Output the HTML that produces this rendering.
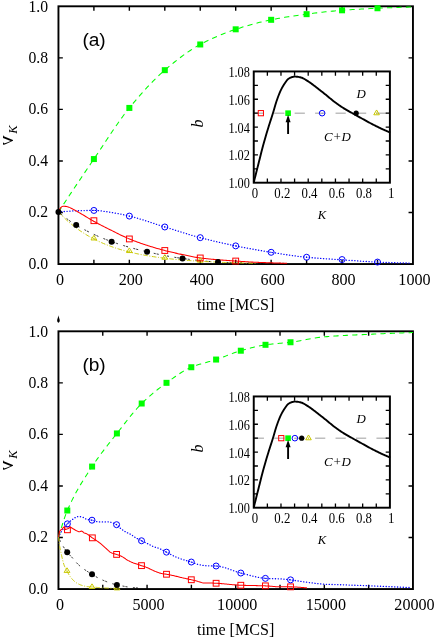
<!DOCTYPE html>
<html>
<head>
<meta charset="utf-8">
<title>Figure</title>
<style>
html,body{margin:0;padding:0;background:#fff;}
body{width:436px;height:637px;overflow:hidden;font-family:"Liberation Serif",serif;}
svg{display:block;will-change:transform;}
</style>
</head>
<body>
<svg width="436" height="637" viewBox="0 0 436 637">
<rect x="0" y="0" width="436" height="637" fill="#ffffff"/>
<g>
<path d="M93.9 264.05v-4.4M93.9 6.3v4.4M129.35 264.05v-4.4M129.35 6.3v4.4M164.8 264.05v-4.4M164.8 6.3v4.4M200.25 264.05v-4.4M200.25 6.3v4.4M235.7 264.05v-4.4M235.7 6.3v4.4M271.15 264.05v-4.4M271.15 6.3v4.4M306.6 264.05v-4.4M306.6 6.3v4.4M342.05 264.05v-4.4M342.05 6.3v4.4M377.5 264.05v-4.4M377.5 6.3v4.4M58.45 212.5h4.4M412.95 212.5h-4.4M58.45 160.95h4.4M412.95 160.95h-4.4M58.45 109.4h4.4M412.95 109.4h-4.4M58.45 57.85h4.4M412.95 57.85h-4.4" stroke="#000" stroke-width="1.4" fill="none"/>
<rect x="58.45" y="6.3" width="354.5" height="257.75" fill="none" stroke="#000" stroke-width="1.9"/>
<g font-family="'Liberation Serif', serif" font-size="15.7px" fill="#000">
<text x="48.0" y="268.55" text-anchor="end">0.0</text>
<text x="48.0" y="217.17" text-anchor="end">0.2</text>
<text x="48.0" y="165.79" text-anchor="end">0.4</text>
<text x="48.0" y="114.41" text-anchor="end">0.6</text>
<text x="48.0" y="63.03" text-anchor="end">0.8</text>
<text x="48.0" y="11.65" text-anchor="end">1.0</text>
<text x="59.95" y="285.4" text-anchor="middle" font-size="16.1px">0</text>
<text x="130.85" y="285.4" text-anchor="middle" font-size="16.1px">200</text>
<text x="201.75" y="285.4" text-anchor="middle" font-size="16.1px">400</text>
<text x="272.65" y="285.4" text-anchor="middle" font-size="16.1px">600</text>
<text x="343.55" y="285.4" text-anchor="middle" font-size="16.1px">800</text>
<text x="414.45" y="285.4" text-anchor="middle" font-size="16.1px">1000</text>
</g>
<text x="235.6" y="309.5" text-anchor="middle" font-family="'Liberation Serif', serif" font-size="16.1px">time [MCS]</text>
<text transform="translate(12.7 135.6) rotate(-90) scale(-1 1)" font-family="'Liberation Serif', serif" font-size="21.5px">&#957;</text>
<text transform="translate(17.4 133.7) rotate(-90)" font-family="'Liberation Serif', serif" font-style="italic" font-size="12.6px">K</text>
<text x="82.4" y="45.6" font-family="'Liberation Sans', sans-serif" font-size="19.1px">(a)</text>
<path d="M58.45 211.97L60.23 209.27L62.01 206.57L63.79 203.88L65.58 201.19L67.36 198.5L69.14 195.82L70.92 193.15L72.7 190.48L74.48 187.81L76.26 185.15L78.05 182.49L79.83 179.84L81.61 177.19L83.39 174.55L85.17 171.91L86.95 169.28L88.73 166.65L90.52 164.02L92.3 161.4L93.9 159.05L94.08 158.79L95.86 156.16L97.64 153.5L99.42 150.83L101.2 148.14L102.99 145.45L104.77 142.75L106.55 140.05L108.33 137.36L110.11 134.68L111.89 132.02L113.67 129.38L115.46 126.77L117.24 124.19L119.02 121.65L120.8 119.15L122.58 116.7L124.36 114.31L126.14 111.97L127.92 109.69L129.35 107.93L129.71 107.49L131.49 105.32L133.27 103.18L135.05 101.05L136.83 98.96L138.61 96.89L140.39 94.84L142.18 92.83L143.96 90.84L145.74 88.88L147.52 86.96L149.3 85.07L151.08 83.21L152.86 81.38L154.65 79.6L156.43 77.85L158.21 76.14L159.99 74.47L161.77 72.84L163.55 71.25L164.8 70.16L165.33 69.7L167.12 68.18L168.9 66.67L170.68 65.19L172.46 63.72L174.24 62.27L176.02 60.85L177.8 59.45L179.59 58.08L181.37 56.74L183.15 55.42L184.93 54.13L186.71 52.88L188.49 51.65L190.27 50.46L192.06 49.3L193.84 48.18L195.62 47.1L197.4 46.06L199.18 45.05L200.25 44.47L200.96 44.09L202.74 43.15L204.53 42.23L206.31 41.34L208.09 40.46L209.87 39.61L211.65 38.77L213.43 37.96L215.21 37.16L217 36.39L218.78 35.63L220.56 34.89L222.34 34.17L224.12 33.47L225.9 32.78L227.68 32.12L229.47 31.47L231.25 30.83L233.03 30.21L234.81 29.61L235.7 29.31L236.59 29.02L238.37 28.44L240.15 27.88L241.93 27.32L243.72 26.77L245.5 26.24L247.28 25.71L249.06 25.2L250.84 24.7L252.62 24.2L254.4 23.72L256.19 23.26L257.97 22.8L259.75 22.36L261.53 21.92L263.31 21.5L265.09 21.1L266.87 20.7L268.66 20.32L270.44 19.95L271.15 19.81L272.22 19.6L274 19.25L275.78 18.91L277.56 18.58L279.34 18.26L281.13 17.95L282.91 17.64L284.69 17.34L286.47 17.05L288.25 16.77L290.03 16.49L291.81 16.22L293.6 15.95L295.38 15.69L297.16 15.43L298.94 15.18L300.72 14.94L302.5 14.7L304.28 14.46L306.07 14.23L306.6 14.16L307.85 14L309.63 13.77L311.41 13.54L313.19 13.32L314.97 13.1L316.75 12.88L318.54 12.66L320.32 12.45L322.1 12.25L323.88 12.04L325.66 11.84L327.44 11.65L329.22 11.46L331.01 11.28L332.79 11.11L334.57 10.94L336.35 10.77L338.13 10.62L339.91 10.47L341.69 10.33L342.05 10.3L343.48 10.2L345.26 10.07L347.04 9.94L348.82 9.82L350.6 9.7L352.38 9.58L354.16 9.47L355.94 9.36L357.73 9.26L359.51 9.15L361.29 9.05L363.07 8.96L364.85 8.86L366.63 8.77L368.41 8.68L370.2 8.59L371.98 8.5L373.76 8.42L375.54 8.34L377.32 8.26L377.5 8.25L379.1 8.18L380.88 8.1L382.67 8.02L384.45 7.95L386.23 7.87L388.01 7.8L389.79 7.73L391.57 7.66L393.35 7.59L395.14 7.52L396.92 7.46L398.7 7.4L400.48 7.33L402.26 7.28L404.04 7.22L405.82 7.16L407.61 7.11L409.39 7.06L411.17 7.01L412.95 6.96" stroke="#00ff00" stroke-width="1.05" fill="none" stroke-dasharray="5.2 4.2" stroke-linejoin="round"/>
<path d="M58.45 211.97L60.22 211.82L61.99 211.67L63.76 211.53L65.53 211.4L67.29 211.27L69.06 211.16L70.83 211.05L72.6 210.96L74.37 210.88L76.14 210.82L76.18 210.81L77.91 210.76L79.68 210.7L81.45 210.65L83.22 210.6L84.98 210.55L86.75 210.51L88.52 210.48L90.29 210.45L92.06 210.43L93.83 210.43L93.9 210.43L95.6 210.46L97.37 210.55L99.14 210.7L100.9 210.89L102.67 211.12L104.44 211.37L106.21 211.64L107.98 211.92L109.75 212.2L111.52 212.47L111.62 212.48L113.29 212.74L115.06 213.04L116.82 213.36L118.59 213.7L120.36 214.05L122.13 214.43L123.9 214.82L125.67 215.22L127.44 215.63L129.21 216.05L129.35 216.08L130.98 216.48L132.75 216.93L134.51 217.41L136.28 217.91L138.05 218.42L139.82 218.95L141.59 219.49L143.36 220.04L145.13 220.61L146.9 221.18L148.67 221.76L150.43 222.34L152.2 222.92L153.97 223.5L155.74 224.09L157.51 224.67L159.28 225.24L161.05 225.8L162.82 226.36L164.59 226.91L164.8 226.97L166.36 227.45L168.12 227.99L169.89 228.54L171.66 229.1L173.43 229.65L175.2 230.21L176.97 230.76L178.74 231.32L180.51 231.87L182.28 232.43L184.04 232.97L185.81 233.52L187.58 234.06L189.35 234.59L191.12 235.11L192.89 235.63L194.66 236.13L196.43 236.63L198.2 237.11L199.96 237.59L200.25 237.66L201.73 238.05L203.5 238.5L205.27 238.95L207.04 239.4L208.81 239.84L210.58 240.27L212.35 240.7L214.12 241.13L215.89 241.54L217.65 241.96L219.42 242.36L221.19 242.77L222.96 243.16L224.73 243.56L226.5 243.94L228.27 244.33L230.04 244.7L231.81 245.08L233.57 245.45L235.34 245.81L235.7 245.88L237.11 246.17L238.88 246.52L240.65 246.87L242.42 247.22L244.19 247.56L245.96 247.9L247.73 248.24L249.5 248.57L251.26 248.9L253.03 249.22L254.8 249.54L256.57 249.86L258.34 250.17L260.11 250.48L261.88 250.78L263.65 251.08L265.42 251.38L267.18 251.67L268.95 251.95L270.72 252.24L271.15 252.3L272.49 252.52L274.26 252.8L276.03 253.08L277.8 253.36L279.57 253.64L281.34 253.91L283.11 254.19L284.87 254.46L286.64 254.73L288.41 254.99L290.18 255.25L291.95 255.5L293.72 255.75L295.49 255.99L297.26 256.22L299.03 256.44L300.79 256.65L302.56 256.85L304.33 257.04L306.1 257.21L306.6 257.26L307.87 257.38L309.64 257.54L311.41 257.69L313.18 257.84L314.95 257.98L316.71 258.12L318.48 258.25L320.25 258.37L322.02 258.5L323.79 258.62L325.56 258.74L327.33 258.85L329.1 258.97L330.87 259.08L332.64 259.19L334.4 259.31L336.17 259.42L337.94 259.53L339.71 259.65L341.48 259.77L342.05 259.8L343.25 259.89L345.02 260.01L346.79 260.13L348.56 260.26L350.32 260.38L352.09 260.51L353.86 260.64L355.63 260.76L357.4 260.89L359.17 261.01L360.94 261.13L362.71 261.25L364.48 261.36L366.25 261.47L368.01 261.58L369.78 261.68L371.55 261.78L373.32 261.87L375.09 261.96L376.86 262.04L377.5 262.07L378.63 262.11L380.4 262.18L382.17 262.26L383.93 262.33L385.7 262.39L387.47 262.46L389.24 262.53L391.01 262.59L392.78 262.65L394.55 262.71L396.32 262.76L398.09 262.81L399.85 262.86L401.62 262.91L403.39 262.95L405.16 262.99L406.93 263.03L408.7 263.06L410.47 263.09" stroke="#0000ff" stroke-width="1.3" fill="none" stroke-dasharray="0.2 2.65" stroke-linejoin="round" stroke-linecap="round"/>
<path d="M58.45 211.97L59.59 212.91L60.73 213.85L61.87 214.78L63.01 215.7L64.15 216.61L65.29 217.51L66.43 218.39L67.57 219.25L68.71 220.1L69.85 220.93L70.99 221.73L72.13 222.51L73.27 223.27L74.41 224L75.55 224.7L76.18 225.07L76.69 225.37L77.83 226.04L78.97 226.69L80.11 227.33L81.25 227.96L82.39 228.59L83.53 229.2L84.67 229.81L85.81 230.4L86.95 230.99L88.09 231.57L89.23 232.14L90.37 232.7L91.51 233.26L92.65 233.8L93.79 234.34L94.93 234.86L96.07 235.38L97.21 235.89L98.35 236.4L99.49 236.89L100.63 237.37L101.77 237.85L102.91 238.32L104.05 238.78L105.19 239.23L106.33 239.68L107.47 240.12L108.61 240.55L109.75 240.97L110.89 241.38L111.62 241.64L112.03 241.79L113.17 242.19L114.31 242.58L115.46 242.97L116.6 243.35L117.74 243.73L118.88 244.1L120.02 244.47L121.16 244.83L122.3 245.19L123.44 245.54L124.58 245.89L125.72 246.23L126.86 246.56L128 246.89L129.14 247.22L130.28 247.54L131.42 247.86L132.56 248.17L133.7 248.48L134.84 248.79L135.98 249.09L137.12 249.38L138.26 249.67L139.4 249.96L140.54 250.24L141.68 250.52L142.82 250.8L143.96 251.07L145.1 251.33L146.24 251.6L147.07 251.79L147.38 251.86L148.52 252.12L149.66 252.37L150.8 252.63L151.94 252.88L153.08 253.13L154.22 253.38L155.36 253.62L156.5 253.87L157.64 254.11L158.78 254.34L159.92 254.58L161.06 254.81L162.2 255.04L163.34 255.27L164.48 255.49L165.62 255.71L166.76 255.92L167.9 256.14L169.04 256.34L170.18 256.55L171.32 256.75L172.46 256.94L173.6 257.14L174.74 257.32L175.88 257.5L177.02 257.68L178.16 257.85L179.3 258.02L180.44 258.19L181.58 258.34L182.52 258.47L182.72 258.49L183.86 258.64L185 258.79L186.14 258.94L187.28 259.09L188.42 259.24L189.56 259.38L190.7 259.53L191.84 259.67L192.98 259.81L194.12 259.95L195.26 260.09L196.4 260.22L197.54 260.35L198.68 260.48L199.82 260.61L200.96 260.73L202.1 260.85L203.24 260.96L204.38 261.08L205.52 261.18L206.66 261.29L207.8 261.39L208.94 261.48L210.08 261.58L211.22 261.66L212.36 261.74L213.5 261.82L214.64 261.89L215.78 261.96L216.92 262.02L217.98 262.07L218.06 262.07L219.2 262.12L220.34 262.17L221.48 262.22L222.62 262.27L223.76 262.31L224.9 262.36L226.04 262.4L227.18 262.44L228.32 262.48L229.47 262.52L230.61 262.56L231.75 262.6L232.89 262.64L234.03 262.67L235.17 262.71L236.31 262.74L237.45 262.77L238.59 262.8L239.73 262.83L240.87 262.86L242.01 262.89L243.15 262.91L244.29 262.94L245.43 262.96L246.57 262.99L247.71 263.01L248.85 263.03L249.99 263.04L251.13 263.06L252.27 263.08L253.41 263.09L253.43 263.09L254.55 263.11L255.69 263.12L256.83 263.14L257.97 263.15L259.11 263.16L260.25 263.18L261.39 263.19L262.53 263.2L263.67 263.21L264.81 263.23L265.95 263.24L267.09 263.25L268.23 263.26L269.37 263.27L270.51 263.28L271.65 263.29L272.79 263.3L273.93 263.31L275.07 263.32L276.21 263.32L277.35 263.33L278.49 263.33L279.63 263.34L280.77 263.34L281.91 263.35L283.05 263.35L284.19 263.35L285.33 263.35" stroke="#000000" stroke-width="0.85" fill="none" stroke-dasharray="2 1 2 5.5" stroke-linejoin="round"/>
<path d="M58.45 211.97L60.12 213.74L61.79 215.44L63.45 217.09L65.12 218.68L66.79 220.22L68.46 221.71L70.13 223.14L71.8 224.53L73.46 225.87L75.13 227.16L76.8 228.41L78.47 229.62L80.14 230.78L81.81 231.91L83.47 232.99L85.14 234.04L86.81 235.06L88.48 236.04L90.15 236.98L91.81 237.9L93.48 238.78L95.15 239.64L96.82 240.46L98.49 241.26L100.16 242.03L101.82 242.77L103.49 243.49L105.16 244.18L106.83 244.85L108.5 245.5L110.17 246.12L111.83 246.73L113.5 247.31L115.17 247.88L116.84 248.42L118.51 248.95L120.17 249.46L121.84 249.95L123.51 250.42L125.18 250.88L126.85 251.32L128.52 251.75L130.18 252.17L131.85 252.57L133.52 252.95L135.19 253.33L136.86 253.69L138.53 254.04L140.19 254.37L141.86 254.7L143.53 255.01L145.2 255.32L146.87 255.61L148.53 255.9L150.2 256.17L151.87 256.44L153.54 256.69L155.21 256.94L156.88 257.18L158.54 257.41L160.21 257.64L161.88 257.85L163.55 258.06L165.22 258.27L166.89 258.46L168.55 258.65L170.22 258.84L171.89 259.01L173.56 259.18L175.23 259.35L176.89 259.51L178.56 259.66L180.23 259.81L181.9 259.96L183.57 260.1L185.24 260.24L186.9 260.37L188.57 260.49L190.24 260.62L191.91 260.74L193.58 260.85L195.25 260.96L196.91 261.07L198.58 261.17L200.25 261.28L201.92 261.37L203.59 261.47L205.25 261.56L206.92 261.65L208.59 261.73L210.26 261.82L211.93 261.9L213.6 261.98L215.26 262.05L216.93 262.12L218.6 262.2L220.27 262.26L221.94 262.33L223.61 262.4L225.27 262.46L226.94 262.52L228.61 262.58L230.28 262.63L231.95 262.69L233.61 262.74L235.28 262.8L236.95 262.85L238.62 262.9L240.29 262.94L241.96 262.99L243.62 263.03L245.29 263.08L246.96 263.12L248.63 263.16L250.3 263.2L251.97 263.24L253.63 263.28L255.3 263.31L256.97 263.35" stroke="#c8c800" stroke-width="0.95" fill="none" stroke-dasharray="4.6 1.6 1 1.6" stroke-linejoin="round"/>
<path d="M58.45 211.97L59.6 209.35L60.58 207.86L60.75 207.69L61.9 206.64L63.05 206.16L63.06 206.16L64.2 206.22L65.34 206.36L66.49 206.55L67.31 206.7L67.64 206.77L68.79 207.14L69.94 207.63L71.09 208.22L72.24 208.83L73.34 209.4L73.39 209.42L74.54 210.01L75.69 210.63L76.83 211.27L77.98 211.93L79.13 212.61L80.28 213.29L81.43 213.97L82.58 214.65L83.27 215.05L83.73 215.32L84.88 216.01L86.03 216.7L87.18 217.4L88.32 218.1L89.47 218.79L90.62 219.48L91.77 220.15L92.92 220.81L93.19 220.96L94.07 221.45L95.22 222.08L96.37 222.7L97.52 223.31L98.67 223.92L99.81 224.52L100.96 225.12L102.11 225.71L103.26 226.29L104.41 226.88L105.56 227.46L106.71 228.03L107.86 228.61L109.01 229.18L110.16 229.75L110.56 229.95L111.3 230.32L112.45 230.9L113.6 231.48L114.75 232.05L115.9 232.63L117.05 233.21L118.2 233.78L119.35 234.35L120.5 234.91L121.65 235.47L122.79 236.02L123.94 236.56L125.09 237.09L126.24 237.61L127.39 238.12L128.54 238.61L129.35 238.94L129.69 239.08L130.84 239.55L131.99 240.01L133.14 240.46L134.28 240.9L135.43 241.33L136.58 241.76L137.73 242.18L138.88 242.59L140.03 243L141.18 243.4L142.33 243.8L143.48 244.18L144.63 244.57L145.77 244.95L146.92 245.32L147.07 245.37L148.07 245.69L149.22 246.05L150.37 246.41L151.52 246.76L152.67 247.11L153.82 247.46L154.97 247.8L156.12 248.13L157.26 248.46L158.41 248.79L159.56 249.11L160.71 249.42L161.86 249.73L163.01 250.04L164.16 250.34L164.8 250.51L165.31 250.64L166.46 250.93L167.61 251.22L168.75 251.5L169.9 251.78L171.05 252.06L172.2 252.33L173.35 252.6L174.5 252.86L175.65 253.12L176.8 253.38L177.95 253.64L179.1 253.89L180.24 254.13L181.39 254.38L182.52 254.62L182.54 254.62L183.69 254.86L184.84 255.1L185.99 255.34L187.14 255.58L188.29 255.82L189.44 256.06L190.59 256.29L191.73 256.52L192.88 256.74L194.03 256.96L195.18 257.17L196.33 257.36L197.48 257.55L198.63 257.73L199.78 257.89L200.25 257.96L200.93 258.04L202.08 258.19L203.22 258.33L204.37 258.46L205.52 258.59L206.67 258.71L207.82 258.83L208.97 258.95L210.12 259.06L211.27 259.16L212.42 259.27L213.57 259.37L214.72 259.47L215.86 259.57L217.01 259.67L217.98 259.75L218.16 259.77L219.31 259.86L220.46 259.96L221.61 260.05L222.76 260.14L223.91 260.22L225.06 260.31L226.21 260.39L227.35 260.47L228.5 260.55L229.65 260.63L230.8 260.71L231.95 260.79L233.1 260.87L234.25 260.94L235.4 261.02L235.7 261.04L236.55 261.09L237.7 261.17L238.84 261.25L239.99 261.32L241.14 261.4L242.29 261.48L243.44 261.55L244.59 261.63L245.74 261.7L246.89 261.77L248.04 261.84L249.19 261.91L250.33 261.98L251.48 262.04L252.63 262.11L253.78 262.17L254.93 262.23L256.08 262.28L256.97 262.32L257.23 262.33L258.38 262.38L259.53 262.43L260.68 262.47L261.82 262.52L262.97 262.56L264.12 262.6L265.27 262.64L266.42 262.68L267.57 262.72L268.72 262.75L269.87 262.79L271.02 262.83L271.15 262.84L272.17 262.87L273.31 262.91L274.46 262.95L275.61 262.99L276.76 263.02L277.91 263.06L279.06 263.1L280.21 263.14L281.36 263.17L282.51 263.21L283.66 263.24L284.8 263.28L285.95 263.32L287.1 263.35" stroke="#ff0000" stroke-width="1.05" fill="none" stroke-linejoin="round"/>
<rect x="90.9" y="156.05" width="6" height="6" fill="#00ff00"/>
<rect x="126.35" y="104.93" width="6" height="6" fill="#00ff00"/>
<rect x="161.8" y="67.16" width="6" height="6" fill="#00ff00"/>
<rect x="197.25" y="41.47" width="6" height="6" fill="#00ff00"/>
<rect x="232.7" y="26.31" width="6" height="6" fill="#00ff00"/>
<rect x="268.15" y="16.81" width="6" height="6" fill="#00ff00"/>
<rect x="303.6" y="11.16" width="6" height="6" fill="#00ff00"/>
<rect x="339.05" y="7.3" width="6" height="6" fill="#00ff00"/>
<rect x="374.5" y="5.25" width="6" height="6" fill="#00ff00"/>
<path d="M91 239.96L96.8 239.96L93.9 235.36Z" fill="none" stroke="#c8c800" stroke-width="1" stroke-linejoin="miter"/><circle cx="93.9" cy="238.43" r="0.65" fill="#c8c800"/>
<path d="M126.45 252.55L132.25 252.55L129.35 247.95Z" fill="none" stroke="#c8c800" stroke-width="1" stroke-linejoin="miter"/><circle cx="129.35" cy="251.02" r="0.65" fill="#c8c800"/>
<path d="M161.9 259.23L167.7 259.23L164.8 254.63Z" fill="none" stroke="#c8c800" stroke-width="1" stroke-linejoin="miter"/><circle cx="164.8" cy="257.7" r="0.65" fill="#c8c800"/>
<path d="M197.35 262.18L203.15 262.18L200.25 257.58Z" fill="none" stroke="#c8c800" stroke-width="1" stroke-linejoin="miter"/><circle cx="200.25" cy="260.65" r="0.65" fill="#c8c800"/>
<circle cx="58.45" cy="211.97" r="3" fill="#000000"/>
<circle cx="76.18" cy="225.07" r="3" fill="#000000"/>
<circle cx="111.62" cy="241.64" r="3" fill="#000000"/>
<circle cx="147.07" cy="251.79" r="3" fill="#000000"/>
<circle cx="182.52" cy="258.47" r="3" fill="#000000"/>
<circle cx="217.98" cy="262.07" r="3" fill="#000000"/>
<rect x="91" y="217.8" width="5.8" height="5.8" fill="none" stroke="#ff0000" stroke-width="1"/>
<rect x="126.45" y="236.04" width="5.8" height="5.8" fill="none" stroke="#ff0000" stroke-width="1"/>
<rect x="161.9" y="247.61" width="5.8" height="5.8" fill="none" stroke="#ff0000" stroke-width="1"/>
<rect x="197.35" y="255.06" width="5.8" height="5.8" fill="none" stroke="#ff0000" stroke-width="1"/>
<rect x="232.8" y="258.14" width="5.8" height="5.8" fill="none" stroke="#ff0000" stroke-width="1"/>
<circle cx="93.9" cy="210.43" r="3" fill="none" stroke="#0000ff" stroke-width="1"/><circle cx="93.9" cy="210.43" r="0.65" fill="#0000ff"/>
<circle cx="129.35" cy="216.08" r="3" fill="none" stroke="#0000ff" stroke-width="1"/><circle cx="129.35" cy="216.08" r="0.65" fill="#0000ff"/>
<circle cx="164.8" cy="226.97" r="3" fill="none" stroke="#0000ff" stroke-width="1"/><circle cx="164.8" cy="226.97" r="0.65" fill="#0000ff"/>
<circle cx="200.25" cy="237.66" r="3" fill="none" stroke="#0000ff" stroke-width="1"/><circle cx="200.25" cy="237.66" r="0.65" fill="#0000ff"/>
<circle cx="235.7" cy="245.88" r="3" fill="none" stroke="#0000ff" stroke-width="1"/><circle cx="235.7" cy="245.88" r="0.65" fill="#0000ff"/>
<circle cx="271.15" cy="252.3" r="3" fill="none" stroke="#0000ff" stroke-width="1"/><circle cx="271.15" cy="252.3" r="0.65" fill="#0000ff"/>
<circle cx="306.6" cy="257.26" r="3" fill="none" stroke="#0000ff" stroke-width="1"/><circle cx="306.6" cy="257.26" r="0.65" fill="#0000ff"/>
<circle cx="342.05" cy="259.55" r="3" fill="none" stroke="#0000ff" stroke-width="1"/><circle cx="342.05" cy="259.55" r="0.65" fill="#0000ff"/>
<circle cx="377.5" cy="262.07" r="3" fill="none" stroke="#0000ff" stroke-width="1"/><circle cx="377.5" cy="262.07" r="0.65" fill="#0000ff"/>
<g>
<path d="M253.75 113.17H389.9" stroke="#bebebe" stroke-width="1.5" stroke-dasharray="10.2 10.25" stroke-dashoffset="0" fill="none"/>
<path d="M267.37 182.7v-4.2M267.37 71.45v4.2M280.98 182.7v-4.2M280.98 71.45v4.2M294.59 182.7v-4.2M294.59 71.45v4.2M308.21 182.7v-4.2M308.21 71.45v4.2M321.82 182.7v-4.2M321.82 71.45v4.2M335.44 182.7v-4.2M335.44 71.45v4.2M349.05 182.7v-4.2M349.05 71.45v4.2M362.67 182.7v-4.2M362.67 71.45v4.2M376.28 182.7v-4.2M376.28 71.45v4.2M253.75 168.79h4.2M389.9 168.79h-4.2M253.75 154.89h4.2M389.9 154.89h-4.2M253.75 140.98h4.2M389.9 140.98h-4.2M253.75 127.07h4.2M389.9 127.07h-4.2M253.75 113.17h4.2M389.9 113.17h-4.2M253.75 99.26h4.2M389.9 99.26h-4.2M253.75 85.36h4.2M389.9 85.36h-4.2" stroke="#000" stroke-width="1.3" fill="none"/>
<path d="M253.8 182.3L254.66 178.86L255.52 175.43L256.37 172.01L257.23 168.61L258.09 165.21L258.6 163.2L258.95 161.83L259.81 158.41L260.66 154.99L261.52 151.59L262.38 148.26L263.24 145.03L263.6 143.7L264.09 141.92L264.95 138.91L265.81 135.96L266.67 133.08L267.53 130.24L268.38 127.44L269.2 124.8L269.24 124.67L270.1 121.96L270.96 119.33L271.82 116.71L272.67 114.04L273 113L273.53 111.24L274.39 108.28L275.25 105.31L276.1 102.5L276.5 101.3L276.96 99.96L277.82 97.53L278.68 95.23L279.54 93.09L280.39 91.13L280.5 90.9L281.25 89.35L282.11 87.68L282.97 86.14L283.83 84.72L284.5 83.7L284.68 83.43L285.54 82.19L286.4 81L287.26 79.95L288.11 79.1L288.5 78.8L288.97 78.48L289.83 77.97L290.69 77.55L291.55 77.24L291.7 77.2L292.4 77.01L293.26 76.81L294.12 76.66L294.98 76.6L295 76.6L295.84 76.63L296.69 76.71L297.55 76.81L298.2 76.9L298.41 76.93L299.27 77.07L300.12 77.26L300.98 77.48L301.4 77.6L301.84 77.75L302.7 78.11L303.56 78.54L304.41 79.03L305.27 79.55L306.13 80.06L306.2 80.1L306.99 80.58L307.85 81.12L308.7 81.69L309.56 82.29L310.42 82.89L311 83.3L311.28 83.5L312.13 84.13L312.99 84.77L313.85 85.43L314.71 86.1L315.57 86.77L316 87.1L316.42 87.43L317.28 88.09L318.14 88.75L319 89.42L319.86 90.09L320 90.2L320.71 90.76L321.57 91.43L322.43 92.1L323.29 92.78L324.14 93.46L325 94.14L325.2 94.3L325.86 94.83L326.72 95.53L327.58 96.24L328.43 96.96L329.29 97.67L330.15 98.39L331.01 99.1L331.87 99.8L332.72 100.48L333.58 101.15L334.3 101.7L334.44 101.8L335.3 102.44L336.15 103.07L337.01 103.7L337.87 104.31L338.73 104.92L339.59 105.51L340.44 106.1L341.3 106.68L342.16 107.24L343.02 107.79L343.5 108.1L343.88 108.34L344.73 108.86L345.59 109.38L346.45 109.88L347.31 110.37L348.16 110.86L349.02 111.34L349.88 111.82L350.74 112.3L351.6 112.78L352.45 113.26L352.7 113.4L353.31 113.75L354.17 114.23L355.03 114.71L355.89 115.18L356.74 115.66L357.6 116.13L358.46 116.6L359.32 117.08L360.17 117.55L361.03 118.02L361.89 118.49L361.9 118.5L362.75 118.97L363.61 119.45L364.46 119.93L365.32 120.4L366.18 120.88L367.04 121.36L367.9 121.83L368.75 122.3L369.61 122.76L370.47 123.22L371 123.5L371.33 123.67L372.18 124.12L373.04 124.56L373.9 125L374.76 125.43L375.62 125.87L376.47 126.29L377.33 126.72L378.19 127.13L379.05 127.55L379.91 127.96L380.2 128.1L380.76 128.37L381.62 128.77L382.48 129.17L383.34 129.56L384.19 129.96L385.05 130.35L385.91 130.73L386.77 131.11L387.63 131.49L388.48 131.86L389.34 132.23L390.2 132.6" stroke="#000" stroke-width="1.9" fill="none" stroke-linejoin="round"/>
<rect x="253.75" y="71.45" width="136.15" height="111.25" fill="none" stroke="#000" stroke-width="1.95"/>
<rect x="258.26" y="110.57" width="5.2" height="5.2" fill="none" stroke="#ff0000" stroke-width="1"/>
<rect x="285.29" y="110.37" width="5.6" height="5.6" fill="#00ff00"/>
<circle cx="322.12" cy="113.17" r="2.8" fill="none" stroke="#0000ff" stroke-width="1"/><circle cx="322.12" cy="113.17" r="0.4" fill="#0000ff"/>
<circle cx="356.16" cy="113.17" r="2.6" fill="#000000"/>
<path d="M373.78 114.77L379.38 114.77L376.58 109.97Z" fill="none" stroke="#c8c800" stroke-width="1" stroke-linejoin="miter"/><circle cx="376.58" cy="113.17" r="0.65" fill="#c8c800"/>
<path d="M288.09 134V120" stroke="#000" stroke-width="1.9" fill="none"/>
<path d="M288.09 114.8L285.59 122.2L290.59 122.2Z" fill="#000"/>
<g font-family="'Liberation Serif', serif" font-size="12.3px" fill="#000">
<text transform="translate(255.05 198) scale(1 1.08)" text-anchor="middle" font-size="12.8px">0</text>
<text transform="translate(282.28 198) scale(1 1.08)" text-anchor="middle" font-size="12.8px">0.2</text>
<text transform="translate(309.51 198) scale(1 1.08)" text-anchor="middle" font-size="12.8px">0.4</text>
<text transform="translate(336.74 198) scale(1 1.08)" text-anchor="middle" font-size="12.8px">0.6</text>
<text transform="translate(363.97 198) scale(1 1.08)" text-anchor="middle" font-size="12.8px">0.8</text>
<text transform="translate(391.2 198) scale(1 1.08)" text-anchor="middle" font-size="12.8px">1</text>
<text transform="translate(249.9 188.3) scale(1 1.17)" text-anchor="end">1.00</text>
<text transform="translate(249.9 160.49) scale(1 1.17)" text-anchor="end">1.02</text>
<text transform="translate(249.9 132.67) scale(1 1.17)" text-anchor="end">1.04</text>
<text transform="translate(249.9 104.86) scale(1 1.17)" text-anchor="end">1.06</text>
<text transform="translate(249.9 77.05) scale(1 1.17)" text-anchor="end">1.08</text>
</g>
<text x="322" y="218.6" text-anchor="middle" font-family="'Liberation Serif', serif" font-style="italic" font-size="12.6px">K</text>
<text transform="translate(203.3 123.5) rotate(-90)" text-anchor="middle" font-family="'Liberation Serif', serif" font-style="italic" font-size="16px">b</text>
<text x="361.2" y="98" text-anchor="middle" font-family="'Liberation Serif', serif" font-style="italic" font-size="12.9px">D</text>
<text x="337.4" y="141.3" text-anchor="middle" font-family="'Liberation Serif', serif" font-style="italic" font-size="12.9px">C+D</text>
</g>
</g>
<path d="M58.45 315.2C58.7 317.5 59.8 319 59.75 320.6C59.7 322 59 322.7 58.45 322.7C57.9 322.7 57.2 322 57.15 320.6C57.1 319 58.2 317.5 58.45 315.2Z" fill="#000"/>
<g transform="translate(0 325)">
<path d="M102.76 264.05v-4.4M102.76 6.3v4.4M147.07 264.05v-4.4M147.07 6.3v4.4M191.39 264.05v-4.4M191.39 6.3v4.4M235.7 264.05v-4.4M235.7 6.3v4.4M280.01 264.05v-4.4M280.01 6.3v4.4M324.32 264.05v-4.4M324.32 6.3v4.4M368.64 264.05v-4.4M368.64 6.3v4.4M58.45 212.5h4.4M412.95 212.5h-4.4M58.45 160.95h4.4M412.95 160.95h-4.4M58.45 109.4h4.4M412.95 109.4h-4.4M58.45 57.85h4.4M412.95 57.85h-4.4" stroke="#000" stroke-width="1.4" fill="none"/>
<rect x="58.45" y="6.3" width="354.5" height="257.75" fill="none" stroke="#000" stroke-width="1.9"/>
<g font-family="'Liberation Serif', serif" font-size="15.7px" fill="#000">
<text x="48.0" y="268.55" text-anchor="end">0.0</text>
<text x="48.0" y="217.17" text-anchor="end">0.2</text>
<text x="48.0" y="165.79" text-anchor="end">0.4</text>
<text x="48.0" y="114.41" text-anchor="end">0.6</text>
<text x="48.0" y="63.03" text-anchor="end">0.8</text>
<text x="48.0" y="11.65" text-anchor="end">1.0</text>
<text x="59.95" y="285.4" text-anchor="middle" font-size="16.1px">0</text>
<text x="148.57" y="285.4" text-anchor="middle" font-size="16.1px">5000</text>
<text x="237.2" y="285.4" text-anchor="middle" font-size="16.1px">10000</text>
<text x="325.82" y="285.4" text-anchor="middle" font-size="16.1px">15000</text>
<text x="414.45" y="285.4" text-anchor="middle" font-size="16.1px">20000</text>
</g>
<text x="235.6" y="309.5" text-anchor="middle" font-family="'Liberation Serif', serif" font-size="16.1px">time [MCS]</text>
<text transform="translate(12.7 135.6) rotate(-90) scale(-1 1)" font-family="'Liberation Serif', serif" font-size="21.5px">&#957;</text>
<text transform="translate(17.4 133.7) rotate(-90)" font-family="'Liberation Serif', serif" font-style="italic" font-size="12.6px">K</text>
<text x="82.4" y="45.6" font-family="'Liberation Sans', sans-serif" font-size="19.1px">(b)</text>
<path d="M58.6 211.97L60.08 206.98L61.57 202.06L63.05 197.31L64.53 192.83L66.01 188.71L67.3 185.51L67.5 185.05L68.98 181.68L70.46 178.46L71.95 175.37L73.43 172.4L74.91 169.55L76.39 166.81L77.88 164.16L79.36 161.6L80.84 159.11L82.33 156.68L83.81 154.31L85.29 151.98L86.77 149.69L88.26 147.42L89.74 145.17L91.22 142.91L92.1 141.58L92.71 140.66L94.19 138.45L95.67 136.29L97.15 134.17L98.64 132.09L100.12 130.06L101.6 128.05L103.09 126.08L104.57 124.13L106.05 122.2L107.53 120.3L109.02 118.4L110.5 116.52L111.98 114.65L113.47 112.78L114.95 110.91L116.43 109.03L116.9 108.44L117.91 107.15L119.4 105.25L120.88 103.35L122.36 101.44L123.85 99.53L125.33 97.63L126.81 95.73L128.29 93.86L129.78 92.01L131.26 90.18L132.74 88.39L134.23 86.63L135.71 84.91L137.19 83.25L138.67 81.63L140.16 80.07L141.64 78.57L141.7 78.51L143.12 77.12L144.61 75.71L146.09 74.32L147.57 72.97L149.05 71.64L150.54 70.35L152.02 69.08L153.5 67.83L154.98 66.61L156.47 65.41L157.95 64.24L159.43 63.08L160.92 61.95L162.4 60.83L163.88 59.73L165.36 58.65L166.5 57.83L166.85 57.58L168.33 56.51L169.81 55.45L171.3 54.38L172.78 53.32L174.26 52.27L175.74 51.23L177.23 50.22L178.71 49.22L180.19 48.25L181.68 47.32L183.16 46.41L184.64 45.55L186.12 44.72L187.61 43.94L189.09 43.22L190.57 42.54L191.3 42.24L192.06 41.93L193.54 41.35L195.02 40.81L196.5 40.3L197.99 39.82L199.47 39.36L200.95 38.92L202.44 38.49L203.92 38.08L205.4 37.67L206.88 37.26L208.37 36.86L209.85 36.44L211.33 36.02L212.82 35.59L214.3 35.13L215.78 34.66L216.1 34.55L217.26 34.16L218.75 33.64L220.23 33.11L221.71 32.56L223.2 32.01L224.68 31.44L226.16 30.87L227.64 30.3L229.13 29.74L230.61 29.18L232.09 28.62L233.58 28.08L235.06 27.56L236.54 27.05L238.02 26.56L239.51 26.1L240.8 25.72L240.99 25.66L242.47 25.24L243.96 24.82L245.44 24.4L246.92 23.98L248.4 23.57L249.89 23.17L251.37 22.78L252.85 22.4L254.34 22.03L255.82 21.67L257.3 21.33L258.78 21.01L260.27 20.71L261.75 20.43L263.23 20.16L264.72 19.93L265.5 19.81L266.2 19.71L267.68 19.51L269.16 19.33L270.65 19.16L272.13 19.01L273.61 18.86L275.1 18.72L276.58 18.59L278.06 18.46L279.54 18.33L281.03 18.2L282.51 18.07L283.99 17.93L285.48 17.79L286.96 17.64L288.44 17.48L289.92 17.31L290.5 17.24L291.41 17.12L292.89 16.92L294.37 16.7L295.86 16.47L297.34 16.22L298.82 15.97L300.3 15.7L301.79 15.43L303.27 15.16L304.75 14.88L306.24 14.6L307.72 14.32L309.2 14.05L310.68 13.78L312.17 13.51L313.65 13.26L315.13 13.01L316.62 12.78L318.1 12.56L319.58 12.36L321.06 12.18L322.55 12.01L324.03 11.87L324.3 11.84L325.51 11.74L326.99 11.62L328.48 11.51L329.96 11.39L331.44 11.29L332.93 11.18L334.41 11.08L335.89 10.98L337.37 10.89L338.86 10.8L340.34 10.71L341.82 10.63L343.31 10.54L344.79 10.46L346.27 10.38L347.75 10.31L349.24 10.23L350.72 10.16L352.2 10.09L353.69 10.02L355.17 9.95L356.65 9.88L358.13 9.81L359.62 9.74L361.1 9.68L362.58 9.61L364.07 9.54L365.55 9.47L367.03 9.4L368.1 9.35L368.51 9.33L370 9.26L371.48 9.2L372.96 9.13L374.45 9.06L375.93 8.99L377.41 8.93L378.89 8.86L380.38 8.8L381.86 8.73L383.34 8.67L384.83 8.6L386.31 8.54L387.79 8.48L389.27 8.42L390.76 8.36L392.24 8.3L393.72 8.24L395.21 8.18L396.69 8.13L398.17 8.07L399.65 8.01L401.14 7.96L402.62 7.91L404.1 7.85L405.59 7.8L407.07 7.75L408.55 7.7L410.03 7.65L411.52 7.6L413 7.55" stroke="#00ff00" stroke-width="1.05" fill="none" stroke-dasharray="5.2 4.2" stroke-linejoin="round"/>
<path d="M58.6 211.97L59.78 209.5L60.95 207.32L61 207.24L62.13 205.47L63.31 203.77L64.48 202.21L65.66 200.76L66.84 199.43L67.36 198.87L68.02 198.2L69.19 197.1L70.37 196.11L70.8 195.76L71.55 195.19L72.72 194.35L73.9 193.55L74.2 193.34L75.08 192.63L76.25 191.83L76.6 191.75L77.43 191.7L78.61 191.66L79.7 191.65L79.78 191.65L80.96 191.79L82.14 192.1L83.2 192.45L83.32 192.49L84.49 193.18L85.67 193.91L86 194.04L86.85 194.27L88.02 194.52L89.2 194.71L90.38 194.89L91.55 195.1L92 195.19L92.73 195.38L93.91 195.76L95.08 196.16L96.26 196.52L97.44 196.77L98.2 196.84L98.62 196.85L99.79 196.89L100.97 196.91L102.15 196.93L103.32 196.94L104 196.94L104.5 196.94L105.68 196.91L106.85 196.88L108 196.86L108.03 196.86L109.21 196.94L110.38 197.15L111.56 197.47L112.74 197.89L113.92 198.38L115.09 198.93L116.27 199.52L116.6 199.69L117.45 200.28L118.62 201.44L119.8 202.72L120.9 203.75L120.98 203.81L122.15 204.69L123.33 205.51L124.51 206.26L125.68 206.95L125.7 206.96L126.86 207.56L128.04 208.1L129.22 208.64L130.39 209.23L130.6 209.35L131.57 209.95L132.75 210.76L133.92 211.6L135.1 212.38L135.4 212.56L136.28 213.06L137.45 213.7L138.63 214.31L139.81 214.9L140.98 215.49L141.5 215.75L142.16 216.07L143.34 216.64L144.52 217.2L145.69 217.76L146.87 218.32L148.05 218.88L148.2 218.96L149.22 219.48L150.4 220.12L151.58 220.75L152.75 221.34L153.93 221.84L154 221.86L155.11 222.22L156.28 222.53L157.46 222.86L158 223.04L158.64 223.28L159.82 223.77L160.99 224.31L162.17 224.9L163.35 225.5L164.52 226.12L165.7 226.74L166.5 227.15L166.88 227.35L168.05 227.98L169.23 228.63L170.41 229.3L171.58 229.95L172.76 230.56L173.94 231.13L174 231.16L175.12 231.66L176.29 232.16L177.47 232.64L178.65 233.1L179.82 233.54L181 233.97L182.1 234.35L182.18 234.37L183.35 234.75L184.53 235.1L185.71 235.44L186.88 235.76L188.06 236.09L189.24 236.42L190.42 236.77L191.3 237.04L191.59 237.14L192.77 237.56L193.95 238.02L195.12 238.48L196.3 238.91L197.48 239.28L198.2 239.46L198.65 239.56L199.83 239.81L201.01 240.06L202.18 240.27L203.36 240.46L204.54 240.61L205.72 240.72L206.2 240.74L206.89 240.77L208.07 240.81L209.25 240.84L210.42 240.86L211.6 240.88L212.78 240.9L213.95 240.93L215.13 240.96L216.1 241L216.31 241.01L217.48 241.1L218.66 241.24L219.84 241.43L221.02 241.67L222.19 241.94L223.37 242.25L224.55 242.59L225.72 242.96L226.9 243.35L228.08 243.76L229.25 244.18L230.43 244.61L231.61 245.04L232.78 245.47L233.96 245.9L235.14 246.31L236.32 246.72L237.49 247.1L238.67 247.46L239.85 247.79L240.8 248.04L241.02 248.09L242.2 248.39L243.38 248.69L244.55 248.99L245.73 249.3L246.91 249.61L248.08 249.92L249.26 250.23L250.44 250.53L251.62 250.83L252.79 251.12L253.97 251.4L255.15 251.67L256.32 251.93L257.5 252.18L258.68 252.41L259.85 252.62L261.03 252.82L262.21 252.99L263.38 253.15L264.56 253.28L265.4 253.36L265.74 253.38L266.92 253.48L268.09 253.55L269.27 253.61L270 253.64L270.45 253.65L271.62 253.68L272.8 253.71L273.98 253.73L275.15 253.74L276.33 253.76L277.51 253.78L278.68 253.81L279.86 253.84L280 253.84L281.04 253.89L282.22 253.96L283.39 254.05L284.57 254.16L285.75 254.29L286.92 254.42L288.1 254.56L289.28 254.7L290.45 254.84L290.55 254.85L291.63 254.98L292.81 255.14L293.98 255.32L295.16 255.5L296.34 255.69L297.52 255.88L298.69 256.06L299.87 256.24L300 256.26L301.05 256.41L302.22 256.58L303.4 256.75L304.58 256.92L305.75 257.09L306.93 257.25L308.11 257.41L309.28 257.56L310 257.65L310.46 257.7L311.64 257.85L312.82 258L313.99 258.15L315.17 258.3L316.35 258.44L317.52 258.58L318.7 258.71L319.88 258.83L321.05 258.94L322.23 259.04L323.41 259.12L324.1 259.16L324.58 259.19L325.76 259.25L326.94 259.31L328.12 259.36L329.29 259.41L330.47 259.45L331.65 259.5L332.82 259.54L334 259.58L335.18 259.61L336.35 259.65L337.53 259.68L338.71 259.72L339.88 259.75L341.06 259.78L342.24 259.82L343.42 259.85L344.59 259.88L345.77 259.92L346.95 259.96L348.12 259.99L349.3 260.04L350 260.06L350.48 260.08L351.65 260.12L352.83 260.17L354.01 260.21L355.18 260.26L356.36 260.3L357.54 260.35L358.72 260.39L359.89 260.44L361.07 260.48L362.25 260.53L363.42 260.57L364.6 260.62L365.78 260.67L366.95 260.71L368.13 260.76L369.31 260.81L370.48 260.85L371.66 260.9L372.84 260.95L374.02 261L375.19 261.04L376.37 261.09L377.55 261.14L378.72 261.19L379.9 261.24L381.08 261.29L382.25 261.34L383.43 261.38L384.61 261.43L385.78 261.48L386.96 261.53L388.14 261.58L389.32 261.63L390.49 261.68L391.67 261.74L392.85 261.79L394.02 261.84L395.2 261.89L396.38 261.94L397.55 261.99L398.73 262.04L399.91 262.1L401.08 262.15L402.26 262.2L403.44 262.26L404.62 262.31L405.79 262.36L406.97 262.42L408.15 262.47L409.32 262.52L410.5 262.58" stroke="#0000ff" stroke-width="1.3" fill="none" stroke-dasharray="0.2 2.65" stroke-linejoin="round" stroke-linecap="round"/>
<path d="M58.6 211.97L59.28 213.93L59.5 214.46L59.97 215.51L60.65 216.91L61.34 218.19L62.02 219.38L62.7 220.53L63.2 221.35L63.39 221.66L64.07 222.76L64.76 223.83L65.44 224.85L66.12 225.83L66.81 226.75L67.2 227.26L67.49 227.62L68.18 228.42L68.86 229.17L69.54 229.89L70.23 230.59L70.91 231.28L71.6 231.99L72.28 232.73L72.3 232.75L72.96 233.51L73.65 234.31L74.33 235.13L75.02 235.95L75.7 236.76L76.38 237.55L77.07 238.3L77.75 239.01L77.9 239.15L78.44 239.66L79.12 240.29L79.81 240.89L80.49 241.48L81.17 242.04L81.86 242.58L82.54 243.11L83.23 243.62L83.4 243.75L83.91 244.12L84.59 244.6L85.28 245.06L85.96 245.52L86.65 245.96L87.33 246.4L88.01 246.82L88.7 247.25L89.38 247.66L90.07 248.08L90.75 248.49L91.43 248.9L92 249.25L92.12 249.32L92.8 249.74L93.49 250.16L94.17 250.58L94.85 251.01L95.54 251.42L96.22 251.83L96.91 252.24L97.59 252.63L98.27 253.01L98.96 253.37L99.64 253.72L99.9 253.84L100.33 254.05L101.01 254.37L101.69 254.68L102.38 254.98L103.06 255.27L103.75 255.56L104.43 255.84L105.11 256.11L105.8 256.38L106.48 256.64L107.17 256.89L107.85 257.14L108.53 257.38L109 257.54L109.22 257.62L109.9 257.86L110.59 258.09L111.27 258.32L111.95 258.55L112.64 258.77L113.32 258.98L114.01 259.19L114.69 259.39L115.37 259.58L116.06 259.75L116.74 259.92L116.9 259.96L117.43 260.08L118.11 260.23L118.79 260.36L119.48 260.5L120.16 260.62L120.85 260.75L121.53 260.87L122.22 260.99L122.9 261.1L123.58 261.22L123.7 261.24L124.27 261.34L124.95 261.47L125.64 261.59L126.32 261.71L127 261.83L127.69 261.93L128.37 262.04L129.06 262.13L129.2 262.14L129.74 262.21L130.42 262.29L131.11 262.36L131.79 262.44L132.48 262.51L133.16 262.59L133.84 262.65L134.53 262.72L135.21 262.78L135.9 262.84L136.58 262.89L137.26 262.94L137.95 262.99L138.63 263.03L139.32 263.06L140 263.09" stroke="#000000" stroke-width="0.85" fill="none" stroke-dasharray="2 1 2 5.5" stroke-linejoin="round"/>
<path d="M58.6 211.97L59.19 217.59L59.5 219.96L59.78 221.73L60.37 224.91L60.96 227.64L61.3 229.16L61.55 230.28L62.14 232.89L62.73 235.39L63.32 237.66L63.91 239.61L64.1 240.15L64.5 241.18L65.09 242.52L65.68 243.7L66.27 244.81L66.85 245.88L66.86 245.9L67.45 247L68.04 248.1L68.63 249.15L69.22 250.16L69.81 251.08L70.4 251.91L70.5 252.05L70.99 252.66L71.58 253.38L72.17 254.06L72.76 254.71L73.35 255.32L73.94 255.89L74.53 256.42L75.12 256.91L75.71 257.35L76 257.54L76.3 257.74L76.89 258.1L77.48 258.45L78.07 258.77L78.66 259.08L79.25 259.36L79.84 259.62L80.43 259.86L81.02 260.08L81.5 260.24L81.61 260.28L82.2 260.46L82.79 260.64L83.38 260.81L83.97 260.97L84.56 261.11L85.15 261.24L85.74 261.36L86.33 261.46L86.92 261.54L87 261.55L87.51 261.61L88.09 261.66L88.68 261.71L89.27 261.75L89.86 261.79L90.45 261.83L91.04 261.87L91.63 261.91L92 261.94L92.22 261.96L92.81 262.01L93.4 262.06L93.99 262.11L94.58 262.17L95.17 262.23L95.76 262.28L96.35 262.34L96.94 262.4L97.53 262.46L98.12 262.52L98.71 262.57L99.3 262.63L99.89 262.68L100.48 262.73L101.07 262.78L101.66 262.83L102.25 262.87L102.84 262.9L103.43 262.94L104 262.96L104.02 262.97L104.61 262.99L105.2 263.02L105.79 263.04L106.38 263.07L106.97 263.09L107.56 263.12L108.15 263.14L108.74 263.17L109.33 263.19L109.92 263.21L110.51 263.23L111.1 263.25L111.69 263.27L112.28 263.28L112.87 263.3L113.46 263.31L114.05 263.32L114.64 263.33L115.23 263.34L115.82 263.34L116.41 263.35L117 263.35" stroke="#c8c800" stroke-width="0.95" fill="none" stroke-dasharray="4.6 1.6 1 1.6" stroke-linejoin="round"/>
<path d="M58.6 211.97L59.43 206.93L59.5 206.75L60.26 205.54L61.09 204.75L61.92 204.08L62 204.01L62.75 203.17L63.58 202.33L64.2 202.08L64.42 202.37L65.2 204.52L65.25 204.52L66.08 204.38L66.91 204.08L67.45 203.88L67.74 203.75L68.57 203.25L69.4 202.7L70.23 202.36L70.5 202.34L71.06 202.46L71.89 202.97L72.72 203.58L73 203.75L73.55 204.07L74.38 204.56L75.22 205.05L76.05 205.49L76.6 205.75L76.88 205.88L77.71 206.27L78.54 206.61L79.37 206.75L79.4 206.75L80.2 206.53L81.03 206.15L81.5 206.06L81.86 206.14L82.69 206.72L83.52 207.45L84 207.76L84.35 207.9L85.18 208.16L86 208.45L86.02 208.46L86.85 208.87L87.68 209.38L88.51 209.95L89.34 210.57L90.17 211.21L91 211.85L91.83 212.47L92.35 212.84L92.66 213.06L93.49 213.62L94.32 214.18L95.15 214.73L95.98 215.29L96.82 215.85L97.65 216.42L98.48 217L99.31 217.61L100 218.14L100.14 218.24L100.97 218.91L101.8 219.6L102.63 220.31L103.46 221.05L104.29 221.79L105.12 222.53L105.95 223.28L106.5 223.76L106.78 224.02L107.62 224.84L108.45 225.69L109.28 226.49L110.11 227.13L110.5 227.36L110.94 227.57L111.77 227.91L112.6 228.2L113.43 228.45L114.26 228.69L115.09 228.92L115.92 229.18L116.6 229.41L116.75 229.47L117.58 229.78L118.42 230.09L119.25 230.41L120.08 230.74L120.91 231.1L121.74 231.48L122.5 231.85L122.57 231.89L123.4 232.38L124.23 232.94L125.06 233.53L125.89 234.13L126.72 234.69L127.3 235.04L127.55 235.18L128.38 235.64L129.22 236.07L130.05 236.49L130.88 236.88L131.71 237.25L132.2 237.45L132.54 237.59L133.37 237.92L134.2 238.22L135.03 238.51L135.86 238.79L136.69 239.07L137.52 239.33L138.35 239.6L139.18 239.86L140.02 240.14L140.85 240.41L141.5 240.64L141.68 240.7L142.51 240.99L143.34 241.27L144.17 241.55L145 241.83L145.83 242.13L146.66 242.43L147.49 242.76L148.2 243.05L148.32 243.11L149.15 243.52L149.98 243.95L150 243.95L150.82 244.35L151.65 244.75L152.48 245.14L153.31 245.54L154.14 245.91L154.97 246.28L155.8 246.62L156.4 246.86L156.63 246.95L157.46 247.26L158.29 247.57L159.12 247.87L159.95 248.13L160.78 248.36L161.2 248.45L161.62 248.53L162.45 248.67L163.28 248.8L164.11 248.91L164.94 249.01L165.77 249.13L166.5 249.25L166.6 249.26L167.43 249.41L168.26 249.56L169.09 249.72L169.92 249.89L170.75 250.06L171.58 250.24L172.42 250.41L173.25 250.6L174 250.76L174.08 250.78L174.91 250.97L175.74 251.17L176.57 251.37L177.4 251.58L178.23 251.79L179.06 252L179.89 252.21L180.72 252.41L181.55 252.61L182.1 252.74L182.38 252.81L183.22 252.99L184.05 253.17L184.88 253.35L185.71 253.53L186.54 253.71L187.37 253.88L188.2 254.06L189.03 254.24L189.86 254.42L190.69 254.6L191.3 254.74L191.52 254.8L192.35 254.99L193.18 255.19L194.02 255.39L194.85 255.6L195.68 255.81L196.51 256.02L197.34 256.22L198.17 256.43L198.2 256.44L199 256.66L199.83 256.93L200.66 257.21L201.49 257.48L202.32 257.72L203.15 257.91L203.98 258.03L204.6 258.06L204.82 258.06L205.65 258.06L206.48 258.06L207.31 258.06L208.14 258.06L208.97 258.06L209.8 258.06L210.63 258.06L211 258.06L211.46 258.06L212.29 258.08L213.12 258.11L213.95 258.15L214.78 258.19L215.62 258.24L216.1 258.26L216.45 258.28L217.28 258.33L218.11 258.38L218.94 258.44L219.77 258.5L220.6 258.56L221.43 258.63L222.26 258.7L223.09 258.77L223.92 258.85L224.75 258.93L225.58 259.01L226.42 259.09L227.25 259.17L228.08 259.25L228.91 259.33L229.74 259.41L230.57 259.49L231.4 259.57L232.23 259.65L233.06 259.72L233.89 259.8L234.72 259.87L235.55 259.93L236.38 259.99L237.22 260.05L238.05 260.1L238.88 260.15L239.71 260.19L240.54 260.23L240.8 260.24L241.37 260.26L242.2 260.29L243.03 260.32L243.86 260.34L244.69 260.37L245.52 260.39L246.35 260.41L247.18 260.43L248.02 260.45L248.85 260.47L249.68 260.49L250.51 260.5L251.34 260.52L252.17 260.53L253 260.55L253.83 260.57L254.66 260.58L255.49 260.6L256.32 260.61L257.15 260.63L257.98 260.65L258.82 260.67L259.65 260.68L260.48 260.71L261.31 260.73L262.14 260.75L262.97 260.78L263.8 260.8L264.63 260.83L265.4 260.86L265.46 260.86L266.29 260.9L267.12 260.94L267.95 261L268.78 261.06L269.62 261.12L270.45 261.19L271.28 261.26L272.11 261.33L272.94 261.41L273.77 261.48L274.6 261.54L275.43 261.61L276.26 261.66L277.09 261.71L277.92 261.75L278.75 261.78L279.58 261.8L280 261.81L280.42 261.81L281.25 261.82L282.08 261.82L282.91 261.83L283.74 261.83L284.57 261.83L285.4 261.83L286.23 261.84L287.06 261.84L287.89 261.84L288.72 261.85L289.55 261.85L290.38 261.86L290.55 261.86L291.22 261.87L292.05 261.88L292.88 261.9L293.71 261.93L294.54 261.97L295.37 262L296.2 262.05L297.03 262.1L297.86 262.15L298.69 262.21L299.52 262.27L300.35 262.33L301.18 262.4L302.02 262.48L302.85 262.55L303.68 262.63L304.51 262.71L305.34 262.79L306.17 262.88L307 262.96" stroke="#ff0000" stroke-width="1.05" fill="none" stroke-linejoin="round"/>
<rect x="64.3" y="182.51" width="6" height="6" fill="#00ff00"/>
<rect x="89.1" y="138.58" width="6" height="6" fill="#00ff00"/>
<rect x="113.9" y="105.44" width="6" height="6" fill="#00ff00"/>
<rect x="138.7" y="75.51" width="6" height="6" fill="#00ff00"/>
<rect x="163.5" y="54.83" width="6" height="6" fill="#00ff00"/>
<rect x="188.3" y="39.24" width="6" height="6" fill="#00ff00"/>
<rect x="213.1" y="31.55" width="6" height="6" fill="#00ff00"/>
<rect x="237.8" y="22.72" width="6" height="6" fill="#00ff00"/>
<rect x="262.5" y="16.81" width="6" height="6" fill="#00ff00"/>
<rect x="287.5" y="14.24" width="6" height="6" fill="#00ff00"/>
<path d="M64.1 247.41L69.9 247.41L67 242.81Z" fill="none" stroke="#c8c800" stroke-width="1" stroke-linejoin="miter"/><circle cx="67" cy="245.88" r="0.65" fill="#c8c800"/>
<path d="M89.1 263.47L94.9 263.47L92 258.87Z" fill="none" stroke="#c8c800" stroke-width="1" stroke-linejoin="miter"/><circle cx="92" cy="261.94" r="0.65" fill="#c8c800"/>
<path d="M114.1 264.88L119.9 264.88L117 260.28Z" fill="none" stroke="#c8c800" stroke-width="1" stroke-linejoin="miter"/><circle cx="117" cy="263.35" r="0.65" fill="#c8c800"/>
<circle cx="67.2" cy="227.26" r="3" fill="#000000"/>
<circle cx="92" cy="249.25" r="3" fill="#000000"/>
<circle cx="116.9" cy="259.96" r="3" fill="#000000"/>
<rect x="64.55" y="201.88" width="5.8" height="5.8" fill="none" stroke="#ff0000" stroke-width="1"/>
<rect x="89.45" y="209.94" width="5.8" height="5.8" fill="none" stroke="#ff0000" stroke-width="1"/>
<rect x="113.7" y="226.51" width="5.8" height="5.8" fill="none" stroke="#ff0000" stroke-width="1"/>
<rect x="138.6" y="237.74" width="5.8" height="5.8" fill="none" stroke="#ff0000" stroke-width="1"/>
<rect x="163.6" y="246.35" width="5.8" height="5.8" fill="none" stroke="#ff0000" stroke-width="1"/>
<rect x="188.4" y="251.84" width="5.8" height="5.8" fill="none" stroke="#ff0000" stroke-width="1"/>
<rect x="213.2" y="255.36" width="5.8" height="5.8" fill="none" stroke="#ff0000" stroke-width="1"/>
<rect x="237.9" y="257.34" width="5.8" height="5.8" fill="none" stroke="#ff0000" stroke-width="1"/>
<rect x="262.5" y="257.96" width="5.8" height="5.8" fill="none" stroke="#ff0000" stroke-width="1"/>
<rect x="287.65" y="258.96" width="5.8" height="5.8" fill="none" stroke="#ff0000" stroke-width="1"/>
<circle cx="67.36" cy="198.87" r="3" fill="none" stroke="#0000ff" stroke-width="1"/><circle cx="67.36" cy="198.87" r="0.65" fill="#0000ff"/>
<circle cx="92" cy="195.19" r="3" fill="none" stroke="#0000ff" stroke-width="1"/><circle cx="92" cy="195.19" r="0.65" fill="#0000ff"/>
<circle cx="116.6" cy="199.69" r="3" fill="none" stroke="#0000ff" stroke-width="1"/><circle cx="116.6" cy="199.69" r="0.65" fill="#0000ff"/>
<circle cx="141.5" cy="215.75" r="3" fill="none" stroke="#0000ff" stroke-width="1"/><circle cx="141.5" cy="215.75" r="0.65" fill="#0000ff"/>
<circle cx="166.5" cy="227.15" r="3" fill="none" stroke="#0000ff" stroke-width="1"/><circle cx="166.5" cy="227.15" r="0.65" fill="#0000ff"/>
<circle cx="191.3" cy="237.04" r="3" fill="none" stroke="#0000ff" stroke-width="1"/><circle cx="191.3" cy="237.04" r="0.65" fill="#0000ff"/>
<circle cx="216.1" cy="241" r="3" fill="none" stroke="#0000ff" stroke-width="1"/><circle cx="216.1" cy="241" r="0.65" fill="#0000ff"/>
<circle cx="240.8" cy="248.04" r="3" fill="none" stroke="#0000ff" stroke-width="1"/><circle cx="240.8" cy="248.04" r="0.65" fill="#0000ff"/>
<circle cx="265.4" cy="253.36" r="3" fill="none" stroke="#0000ff" stroke-width="1"/><circle cx="265.4" cy="253.36" r="0.65" fill="#0000ff"/>
<circle cx="290.55" cy="254.85" r="3" fill="none" stroke="#0000ff" stroke-width="1"/><circle cx="290.55" cy="254.85" r="0.65" fill="#0000ff"/>
<g>
<path d="M253.75 113.17H389.9" stroke="#bebebe" stroke-width="1.5" stroke-dasharray="10.2 10.25" stroke-dashoffset="0" fill="none"/>
<path d="M267.37 182.7v-4.2M267.37 71.45v4.2M280.98 182.7v-4.2M280.98 71.45v4.2M294.59 182.7v-4.2M294.59 71.45v4.2M308.21 182.7v-4.2M308.21 71.45v4.2M321.82 182.7v-4.2M321.82 71.45v4.2M335.44 182.7v-4.2M335.44 71.45v4.2M349.05 182.7v-4.2M349.05 71.45v4.2M362.67 182.7v-4.2M362.67 71.45v4.2M376.28 182.7v-4.2M376.28 71.45v4.2M253.75 168.79h4.2M389.9 168.79h-4.2M253.75 154.89h4.2M389.9 154.89h-4.2M253.75 140.98h4.2M389.9 140.98h-4.2M253.75 127.07h4.2M389.9 127.07h-4.2M253.75 113.17h4.2M389.9 113.17h-4.2M253.75 99.26h4.2M389.9 99.26h-4.2M253.75 85.36h4.2M389.9 85.36h-4.2" stroke="#000" stroke-width="1.3" fill="none"/>
<path d="M253.8 182.3L254.66 178.86L255.52 175.43L256.37 172.01L257.23 168.61L258.09 165.21L258.6 163.2L258.95 161.83L259.81 158.41L260.66 154.99L261.52 151.59L262.38 148.26L263.24 145.03L263.6 143.7L264.09 141.92L264.95 138.91L265.81 135.96L266.67 133.08L267.53 130.24L268.38 127.44L269.2 124.8L269.24 124.67L270.1 121.96L270.96 119.33L271.82 116.71L272.67 114.04L273 113L273.53 111.24L274.39 108.28L275.25 105.31L276.1 102.5L276.5 101.3L276.96 99.96L277.82 97.53L278.68 95.23L279.54 93.09L280.39 91.13L280.5 90.9L281.25 89.35L282.11 87.68L282.97 86.14L283.83 84.72L284.5 83.7L284.68 83.43L285.54 82.19L286.4 81L287.26 79.95L288.11 79.1L288.5 78.8L288.97 78.48L289.83 77.97L290.69 77.55L291.55 77.24L291.7 77.2L292.4 77.01L293.26 76.81L294.12 76.66L294.98 76.6L295 76.6L295.84 76.63L296.69 76.71L297.55 76.81L298.2 76.9L298.41 76.93L299.27 77.07L300.12 77.26L300.98 77.48L301.4 77.6L301.84 77.75L302.7 78.11L303.56 78.54L304.41 79.03L305.27 79.55L306.13 80.06L306.2 80.1L306.99 80.58L307.85 81.12L308.7 81.69L309.56 82.29L310.42 82.89L311 83.3L311.28 83.5L312.13 84.13L312.99 84.77L313.85 85.43L314.71 86.1L315.57 86.77L316 87.1L316.42 87.43L317.28 88.09L318.14 88.75L319 89.42L319.86 90.09L320 90.2L320.71 90.76L321.57 91.43L322.43 92.1L323.29 92.78L324.14 93.46L325 94.14L325.2 94.3L325.86 94.83L326.72 95.53L327.58 96.24L328.43 96.96L329.29 97.67L330.15 98.39L331.01 99.1L331.87 99.8L332.72 100.48L333.58 101.15L334.3 101.7L334.44 101.8L335.3 102.44L336.15 103.07L337.01 103.7L337.87 104.31L338.73 104.92L339.59 105.51L340.44 106.1L341.3 106.68L342.16 107.24L343.02 107.79L343.5 108.1L343.88 108.34L344.73 108.86L345.59 109.38L346.45 109.88L347.31 110.37L348.16 110.86L349.02 111.34L349.88 111.82L350.74 112.3L351.6 112.78L352.45 113.26L352.7 113.4L353.31 113.75L354.17 114.23L355.03 114.71L355.89 115.18L356.74 115.66L357.6 116.13L358.46 116.6L359.32 117.08L360.17 117.55L361.03 118.02L361.89 118.49L361.9 118.5L362.75 118.97L363.61 119.45L364.46 119.93L365.32 120.4L366.18 120.88L367.04 121.36L367.9 121.83L368.75 122.3L369.61 122.76L370.47 123.22L371 123.5L371.33 123.67L372.18 124.12L373.04 124.56L373.9 125L374.76 125.43L375.62 125.87L376.47 126.29L377.33 126.72L378.19 127.13L379.05 127.55L379.91 127.96L380.2 128.1L380.76 128.37L381.62 128.77L382.48 129.17L383.34 129.56L384.19 129.96L385.05 130.35L385.91 130.73L386.77 131.11L387.63 131.49L388.48 131.86L389.34 132.23L390.2 132.6" stroke="#000" stroke-width="1.9" fill="none" stroke-linejoin="round"/>
<rect x="253.75" y="71.45" width="136.15" height="111.25" fill="none" stroke="#000" stroke-width="1.95"/>
<rect x="278.68" y="110.57" width="5.2" height="5.2" fill="none" stroke="#ff0000" stroke-width="1"/>
<rect x="285.29" y="110.37" width="5.6" height="5.6" fill="#00ff00"/>
<circle cx="294.89" cy="113.17" r="2.8" fill="none" stroke="#0000ff" stroke-width="1"/><circle cx="294.89" cy="113.17" r="0.4" fill="#0000ff"/>
<circle cx="301.7" cy="113.17" r="2.6" fill="#000000"/>
<path d="M305.71 114.77L311.31 114.77L308.51 109.97Z" fill="none" stroke="#c8c800" stroke-width="1" stroke-linejoin="miter"/><circle cx="308.51" cy="113.17" r="0.65" fill="#c8c800"/>
<path d="M288.09 134V120" stroke="#000" stroke-width="1.9" fill="none"/>
<path d="M288.09 114.8L285.59 122.2L290.59 122.2Z" fill="#000"/>
<g font-family="'Liberation Serif', serif" font-size="12.3px" fill="#000">
<text transform="translate(255.05 198) scale(1 1.08)" text-anchor="middle" font-size="12.8px">0</text>
<text transform="translate(282.28 198) scale(1 1.08)" text-anchor="middle" font-size="12.8px">0.2</text>
<text transform="translate(309.51 198) scale(1 1.08)" text-anchor="middle" font-size="12.8px">0.4</text>
<text transform="translate(336.74 198) scale(1 1.08)" text-anchor="middle" font-size="12.8px">0.6</text>
<text transform="translate(363.97 198) scale(1 1.08)" text-anchor="middle" font-size="12.8px">0.8</text>
<text transform="translate(391.2 198) scale(1 1.08)" text-anchor="middle" font-size="12.8px">1</text>
<text transform="translate(249.9 188.3) scale(1 1.17)" text-anchor="end">1.00</text>
<text transform="translate(249.9 160.49) scale(1 1.17)" text-anchor="end">1.02</text>
<text transform="translate(249.9 132.67) scale(1 1.17)" text-anchor="end">1.04</text>
<text transform="translate(249.9 104.86) scale(1 1.17)" text-anchor="end">1.06</text>
<text transform="translate(249.9 77.05) scale(1 1.17)" text-anchor="end">1.08</text>
</g>
<text x="322" y="218.6" text-anchor="middle" font-family="'Liberation Serif', serif" font-style="italic" font-size="12.6px">K</text>
<text transform="translate(203.3 123.5) rotate(-90)" text-anchor="middle" font-family="'Liberation Serif', serif" font-style="italic" font-size="16px">b</text>
<text x="361.2" y="98" text-anchor="middle" font-family="'Liberation Serif', serif" font-style="italic" font-size="12.9px">D</text>
<text x="337.4" y="141.3" text-anchor="middle" font-family="'Liberation Serif', serif" font-style="italic" font-size="12.9px">C+D</text>
</g>
</g>
</svg>
</body>
</html>
